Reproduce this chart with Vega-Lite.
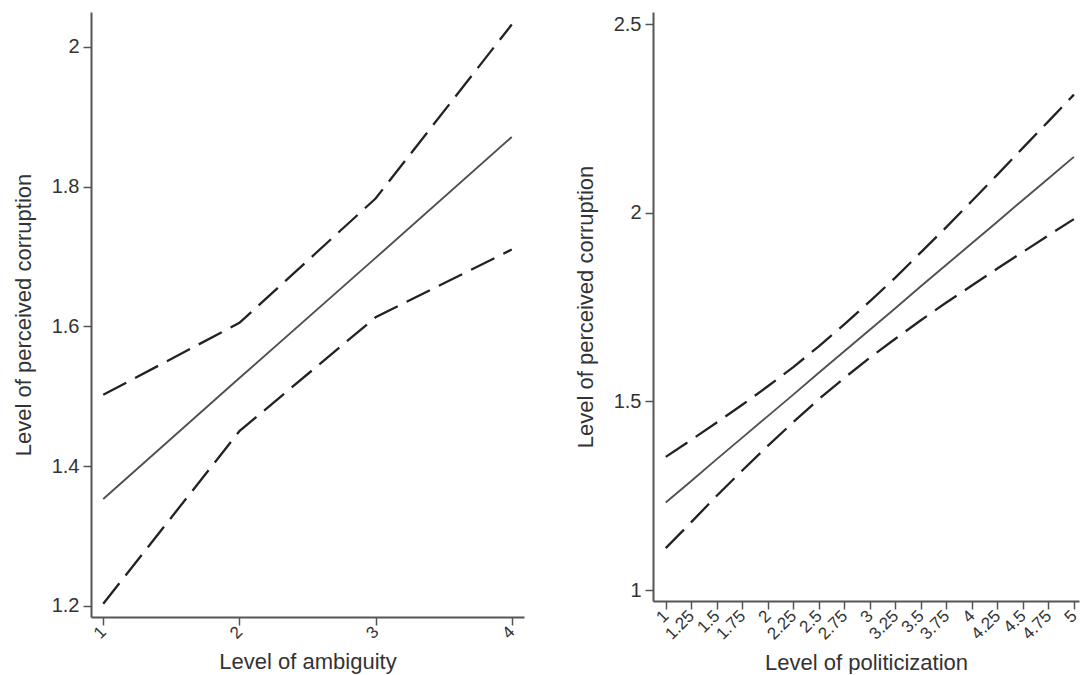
{
  "$schema": "https://vega.github.io/schema/vega-lite/v6.json",
  "background": "white",
  "padding": {"left": 12, "top": 12, "right": 0, "bottom": 0},
  "spacing": 50,
  "datasets": {
    "ambiguity": [
      {"x": 1, "y": 1.353, "series": "Estimate"},
      {"x": 2, "y": 1.526, "series": "Estimate"},
      {"x": 3, "y": 1.698, "series": "Estimate"},
      {"x": 4, "y": 1.871, "series": "Estimate"},
      {"x": 1, "y": 1.502, "series": "Upper"},
      {"x": 2, "y": 1.605, "series": "Upper"},
      {"x": 3, "y": 1.783, "series": "Upper"},
      {"x": 4, "y": 2.032, "series": "Upper"},
      {"x": 1, "y": 1.203, "series": "Lower"},
      {"x": 2, "y": 1.450, "series": "Lower"},
      {"x": 3, "y": 1.613, "series": "Lower"},
      {"x": 4, "y": 1.710, "series": "Lower"}
    ],
    "politicization": [
      {"x": 1, "y": 1.232, "series": "Estimate"},
      {"x": 1.25, "y": 1.289, "series": "Estimate"},
      {"x": 1.5, "y": 1.347, "series": "Estimate"},
      {"x": 1.75, "y": 1.404, "series": "Estimate"},
      {"x": 2, "y": 1.461, "series": "Estimate"},
      {"x": 2.25, "y": 1.518, "series": "Estimate"},
      {"x": 2.5, "y": 1.576, "series": "Estimate"},
      {"x": 2.75, "y": 1.633, "series": "Estimate"},
      {"x": 3, "y": 1.690, "series": "Estimate"},
      {"x": 3.25, "y": 1.747, "series": "Estimate"},
      {"x": 3.5, "y": 1.805, "series": "Estimate"},
      {"x": 3.75, "y": 1.862, "series": "Estimate"},
      {"x": 4, "y": 1.919, "series": "Estimate"},
      {"x": 4.25, "y": 1.976, "series": "Estimate"},
      {"x": 4.5, "y": 2.034, "series": "Estimate"},
      {"x": 4.75, "y": 2.091, "series": "Estimate"},
      {"x": 5, "y": 2.148, "series": "Estimate"},
      {"x": 1, "y": 1.353, "series": "Upper"},
      {"x": 1.25, "y": 1.398, "series": "Upper"},
      {"x": 1.5, "y": 1.444, "series": "Upper"},
      {"x": 1.75, "y": 1.491, "series": "Upper"},
      {"x": 2, "y": 1.540, "series": "Upper"},
      {"x": 2.25, "y": 1.591, "series": "Upper"},
      {"x": 2.5, "y": 1.646, "series": "Upper"},
      {"x": 2.75, "y": 1.704, "series": "Upper"},
      {"x": 3, "y": 1.765, "series": "Upper"},
      {"x": 3.25, "y": 1.828, "series": "Upper"},
      {"x": 3.5, "y": 1.895, "series": "Upper"},
      {"x": 3.75, "y": 1.962, "series": "Upper"},
      {"x": 4, "y": 2.031, "series": "Upper"},
      {"x": 4.25, "y": 2.101, "series": "Upper"},
      {"x": 4.5, "y": 2.172, "series": "Upper"},
      {"x": 4.75, "y": 2.242, "series": "Upper"},
      {"x": 5, "y": 2.313, "series": "Upper"},
      {"x": 1, "y": 1.111, "series": "Lower"},
      {"x": 1.25, "y": 1.180, "series": "Lower"},
      {"x": 1.5, "y": 1.250, "series": "Lower"},
      {"x": 1.75, "y": 1.317, "series": "Lower"},
      {"x": 2, "y": 1.382, "series": "Lower"},
      {"x": 2.25, "y": 1.445, "series": "Lower"},
      {"x": 2.5, "y": 1.506, "series": "Lower"},
      {"x": 2.75, "y": 1.562, "series": "Lower"},
      {"x": 3, "y": 1.616, "series": "Lower"},
      {"x": 3.25, "y": 1.666, "series": "Lower"},
      {"x": 3.5, "y": 1.715, "series": "Lower"},
      {"x": 3.75, "y": 1.762, "series": "Lower"},
      {"x": 4, "y": 1.807, "series": "Lower"},
      {"x": 4.25, "y": 1.852, "series": "Lower"},
      {"x": 4.5, "y": 1.896, "series": "Lower"},
      {"x": 4.75, "y": 1.940, "series": "Lower"},
      {"x": 5, "y": 1.983, "series": "Lower"}
    ]
  },
  "hconcat": [
    {
      "width": 433,
      "height": 605,
      "data": {"name": "ambiguity"},
      "encoding": {
        "x": {"field": "x", "type": "quantitative",
              "scale": {"domain": [0.91, 4.09], "nice": false, "zero": false},
              "axis": {"values": [1, 2, 3, 4], "title": "Level of ambiguity", "format": ".3~g"}},
        "y": {"field": "y", "type": "quantitative",
              "scale": {"domain": [1.184, 2.05], "nice": false, "zero": false},
              "axis": {"values": [1.2, 1.4, 1.6, 1.8, 2], "title": "Level of perceived corruption", "format": ".3~g"}}
      },
      "layer": [
        {"transform": [{"filter": "datum.series === 'Estimate'"}],
         "mark": {"type": "line", "color": "#505050", "strokeWidth": 1.9}},
        {"transform": [{"filter": "datum.series !== 'Estimate'"}],
         "mark": {"type": "line", "color": "#222222", "strokeWidth": 2.3, "strokeDash": [26, 10]},
         "encoding": {"detail": {"field": "series"}}}
      ]
    },
    {
      "width": 426,
      "height": 589,
      "data": {"name": "politicization"},
      "encoding": {
        "x": {"field": "x", "type": "quantitative",
              "scale": {"domain": [0.875, 5.05], "nice": false, "zero": false},
              "axis": {"values": [1, 1.25, 1.5, 1.75, 2, 2.25, 2.5, 2.75, 3, 3.25, 3.5, 3.75, 4, 4.25, 4.5, 4.75, 5], "title": "Level of politicization", "format": ".3~g"}},
        "y": {"field": "y", "type": "quantitative",
              "scale": {"domain": [0.971, 2.532], "nice": false, "zero": false},
              "axis": {"values": [1, 1.5, 2, 2.5], "title": "Level of perceived corruption", "format": ".3~g"}}
      },
      "layer": [
        {"transform": [{"filter": "datum.series === 'Estimate'"}],
         "mark": {"type": "line", "color": "#505050", "strokeWidth": 1.9}},
        {"transform": [{"filter": "datum.series !== 'Estimate'"}],
         "mark": {"type": "line", "color": "#222222", "strokeWidth": 2.3, "strokeDash": [26, 10]},
         "encoding": {"detail": {"field": "series"}}}
      ]
    }
  ],
  "config": {
    "view": {"stroke": null},
    "axis": {
      "grid": false,
      "domainColor": "#555555",
      "domainWidth": 2,
      "tickColor": "#555555",
      "tickWidth": 1.5,
      "tickSize": 8,
      "labelFont": "Liberation Sans",
      "labelFontSize": 20,
      "labelColor": "#333333",
      "labelPadding": 4,
      "titleFont": "Liberation Sans",
      "titleFontSize": 22,
      "titleFontWeight": "normal",
      "titleColor": "#333333"
    },
    "axisX": {"labelAngle": -45, "labelAlign": "right", "labelBaseline": "middle", "titlePadding": 10, "labelFlush": false, "labelOverlap": false, "labelFontSize": 17},
    "axisY": {"titlePadding": 16, "labelFlush": false}
  }
}
